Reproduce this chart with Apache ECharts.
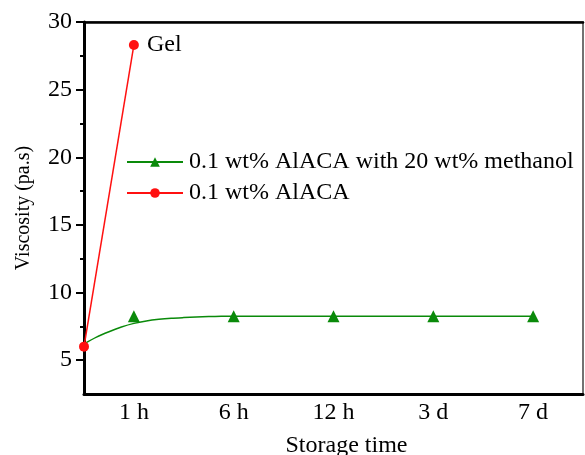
<!DOCTYPE html>
<html>
<head>
<meta charset="utf-8">
<script src="https://cdn.jsdelivr.net/npm/echarts@6/dist/echarts.min.js"></script>
<style>html,body{margin:0;padding:0;background:#fff}#c{width:585px;height:455px}</style>
</head>
<body>
<div id="c"></div>
<script>
// x positions of the storage-time categories on the value axis
var xPositions = [1, 3, 5, 7, 9];
var xLabels = ['1 h', '6 h', '12 h', '3 d', '7 d'];
// green markers (0.1 wt% AlACA with 20 wt% methanol)
var greenValues = [8.25, 8.25, 8.25, 8.25, 8.25];
// green fitted curve (x position, viscosity)
var greenFitX = [0, 0.25, 0.5, 0.75, 1, 1.25, 1.5, 1.75, 2, 2.25, 2.5, 2.75, 3, 4, 5, 6, 7, 8, 9];
var greenFitY = [6.2, 6.7, 7.1, 7.45, 7.72, 7.9, 8.02, 8.1, 8.15, 8.19, 8.22, 8.24, 8.25, 8.25, 8.25, 8.25, 8.25, 8.25, 8.25];
// red series (0.1 wt% AlACA): start and 1 h
var redX = [0, 1];
var redY = [6.0, 28.3];
var yMajorTicks = [5, 10, 15, 20, 25, 30];
var yMinorTicks = [7.5, 12.5, 17.5, 22.5, 27.5];

var FONT = 'Liberation Serif';
var GREEN = '#0a8a0a';
var RED = '#ff1010';

var chart = echarts.init(document.getElementById('c'), null, {renderer: 'canvas'});

var greenMarkers = xPositions.map(function (x, i) { return [x, greenValues[i]]; });
var greenFit = greenFitX.map(function (x, i) { return [x, greenFitY[i]]; });
var redData = redX.map(function (x, i) {
  var d = {value: [x, redY[i]]};
  if (i === redX.length - 1) {
    d.label = {show: true, position: 'right', distance: 8, formatter: 'Gel',
      color: '#000', fontFamily: FONT, fontSize: 24};
  }
  return d;
});

var labelMap = {};
xPositions.forEach(function (x, i) { labelMap[x] = xLabels[i]; });

chart.setOption({
  animation: false,
  backgroundColor: '#fff',
  grid: {left: 84, right: 2, top: 22, bottom: 61, outerBoundsMode: 'none', containLabel: false,
    show: true, borderColor: '#444', borderWidth: 1.5, backgroundColor: 'transparent'},
  legend: {
    data: ['0.1 wt% AlACA with 20 wt% methanol', '0.1 wt% AlACA'],
    orient: 'vertical', left: 126, top: 150, padding: 0,
    itemWidth: 56, itemHeight: 12, itemGap: 7,
    textStyle: {fontFamily: FONT, fontSize: 24, color: '#000', padding: [0, 0, 0, 1]}
  },
  xAxis: [{
    type: 'value', min: 0, max: 10,
    name: 'Storage time', nameLocation: 'middle', nameGap: 40,
    nameTextStyle: {fontFamily: FONT, fontSize: 24, color: '#000', padding: [0, 0, 0, 26]},
    axisLine: {show: true, onZero: false, lineStyle: {color: '#000', width: 3}},
    axisTick: {show: false},
    splitLine: {show: false},
    axisLabel: {customValues: xPositions, formatter: function (v) { return labelMap[v] || ''; },
      fontFamily: FONT, fontSize: 24, color: '#000', margin: 7}
  }, {
    type: 'value', min: 0, max: 10, position: 'top',
    axisLine: {show: true, onZero: false, lineStyle: {color: '#000', width: 2.5}},
    axisTick: {show: false}, axisLabel: {show: false}, splitLine: {show: false}
  }],
  yAxis: [{
    type: 'value', min: 2.5, max: 30,
    name: 'Viscosity (pa.s)', nameLocation: 'middle', nameGap: 50,
    nameTextStyle: {fontFamily: FONT, fontSize: 20, color: '#000'},
    axisLine: {show: true, onZero: false, lineStyle: {color: '#000', width: 3}},
    axisTick: {show: true, customValues: yMajorTicks, length: 8, lineStyle: {color: '#000', width: 2}},
    axisLabel: {customValues: yMajorTicks, fontFamily: FONT, fontSize: 24, color: '#000', margin: 12},
    splitLine: {show: false}
  }, {
    type: 'value', min: 2.5, max: 30, position: 'left',
    axisLine: {show: false},
    axisTick: {show: true, customValues: yMinorTicks, length: 4, lineStyle: {color: '#000', width: 2}},
    axisLabel: {show: false},
    splitLine: {show: false}
  }],
  series: [{
    name: '0.1 wt% AlACA with 20 wt% methanol',
    type: 'line', data: greenFit, smooth: 0.3,
    showSymbol: false, symbol: 'triangle', symbolSize: 11,
    lineStyle: {color: GREEN, width: 1.5}, itemStyle: {color: GREEN},
    z: 3
  }, {
    name: 'greenMarkers',
    type: 'scatter', data: greenMarkers, symbol: 'triangle', symbolSize: 12,
    itemStyle: {color: GREEN, opacity: 1}, z: 4
  }, {
    name: '0.1 wt% AlACA',
    type: 'line', data: redData, symbol: 'circle', symbolSize: 10, showSymbol: true,
    lineStyle: {color: RED, width: 1.5}, itemStyle: {color: RED}, z: 5
  }]
});
</script>
</body>
</html>
